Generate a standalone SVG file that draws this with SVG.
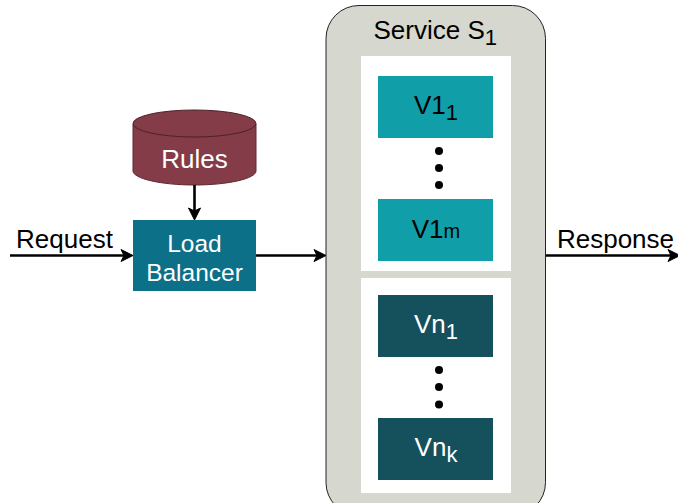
<svg xmlns="http://www.w3.org/2000/svg" width="678" height="503" viewBox="0 0 678 503">
<style>
text{font-family:"Liberation Sans",Arial,sans-serif;font-size:26px;text-anchor:middle}
.l{fill:#fff}.d{fill:#000}
.sub{font-size:22px}
.lb{font-size:24.500px}
.conn{fill:none;stroke:#000;stroke-width:2.6}
.head{fill:#000;stroke:#000;stroke-width:1}
.v1{fill:#109ea8}.vn{fill:#15515d}
.dot{fill:#000}
</style>
<defs>
<path id="ah" class="head" d="M0 0L-12 -6L-9 0L-12 6Z"/>
</defs>
<rect width="678" height="503" fill="#fff"/>
<g id="service">
<rect x="326" y="5.500" width="219.500" height="510" rx="33" fill="#d6d7cf" stroke="#222" stroke-width="1"/>
<text class="d" x="373.500" y="39" style="text-anchor:start">Service S<tspan class="sub" dy="6">1</tspan></text>
<rect x="361" y="56" width="150" height="215" fill="#fff"/>
<rect x="361" y="278" width="150" height="215" fill="#fff"/>
</g>
<g id="v1-1"><rect class="v1" x="378" y="76" width="115" height="62"/><text class="d" x="436" y="114">V1<tspan class="sub" dy="6">1</tspan></text></g>
<g id="dots-1"><circle class="dot" cx="439" cy="151" r="4"/><circle class="dot" cx="439" cy="168" r="4"/><circle class="dot" cx="439" cy="185" r="4"/></g>
<g id="v1-m"><rect class="v1" x="378" y="199" width="115" height="62"/><text class="d" x="436" y="238">V1<tspan class="sub" style="font-size:20px">m</tspan></text></g>
<g id="vn-1"><rect class="vn" x="378" y="295" width="115" height="62"/><text class="l" x="436" y="333">Vn<tspan class="sub" dy="6">1</tspan></text></g>
<g id="dots-2"><circle class="dot" cx="439" cy="370" r="4"/><circle class="dot" cx="439" cy="387" r="4"/><circle class="dot" cx="439" cy="404.500" r="4"/></g>
<g id="vn-k"><rect class="vn" x="378" y="418" width="115" height="62"/><text class="l" x="436" y="456">Vn<tspan class="sub" dy="6">k</tspan></text></g>
<g id="rules">
<path d="M133 124V171C133 178.500 160.500 185 194.500 185S256 178.500 256 171V124" fill="#833c48" stroke="#5e2a33" stroke-width="1"/>
<ellipse cx="194.500" cy="123.500" rx="61.500" ry="13.500" fill="#833c48" stroke="#4e2229" stroke-width="1"/>
<text class="l" x="194.500" y="168">Rules</text>
</g>
<g id="lb"><rect x="133" y="220" width="123" height="71" fill="#0c7088"/>
<text class="l lb" x="194.500" y="251.500">Load</text><text class="l lb" x="194.500" y="280.500">Balancer</text></g>
<g id="connectors">
<path class="conn" d="M194.500 185V212"/><use href="#ah" transform="translate(194.500 220) rotate(90)"/>
<path class="conn" d="M10 255.500H125"/><use href="#ah" transform="translate(133 255.500)"/>
<path class="conn" d="M256 255.500H318"/><use href="#ah" transform="translate(326 255.500)"/>
<path class="conn" d="M546 255.500H672"/><use href="#ah" transform="translate(680 255.500)"/>
</g>
<text class="d" x="64.500" y="248">Request</text>
<text class="d" x="615.500" y="248">Response</text>
</svg>
